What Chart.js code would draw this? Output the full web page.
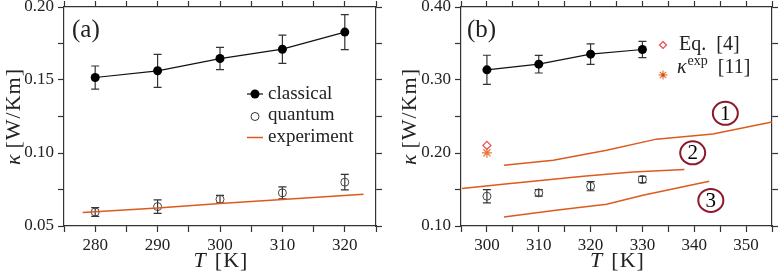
<!DOCTYPE html>
<html>
<head>
<meta charset="utf-8">
<script src="https://cdn.jsdelivr.net/npm/chart.js@4.4.0/dist/chart.umd.min.js"></script>
<style>
  html, body { margin: 0; padding: 0; background: #fff; }
  #wrap { position: relative; width: 781px; height: 278px; }
  .panel { position: absolute; top: 0; height: 278px; }
</style>
</head>
<body>
<div id="wrap">
  <div class="panel" style="left:0;width:390px"><canvas id="chartA" width="390" height="278"></canvas></div>
  <div class="panel" style="left:390px;width:391px"><canvas id="chartB" width="391" height="278"></canvas></div>
</div>
<script>
// panel (a)
const tempsA = [280, 290, 300, 310, 320];
const classicalA = [0.1517, 0.1563, 0.1647, 0.1711, 0.1828];
const classicalErrA = [0.0079, 0.0113, 0.0076, 0.0097, 0.0120];
const quantumA = [0.0596, 0.0633, 0.0683, 0.0727, 0.0800];
const quantumErrA = [0.0030, 0.0046, 0.0027, 0.0041, 0.0053];
const expTempsA = [278, 290, 300, 310, 323];
const experimentA = [0.0592, 0.0624, 0.0654, 0.0681, 0.0718];

// panel (b)
const tempsB = [300, 310, 320, 330];
const classicalB = [0.3139, 0.3217, 0.3354, 0.3418];
const classicalErrB = [0.0200, 0.0121, 0.0140, 0.0112];
const quantumB = [0.1408, 0.1454, 0.1545, 0.1637];
const quantumErrB = [0.0090, 0.0045, 0.0062, 0.0044];
const eq4T = [300];
const eq4 = [0.2104];
const kexpT = [300];
const kexp = [0.2003];
const curve1T = [303.3, 312.8, 323.1, 332.7, 343.6, 355.0];
const curve1 = [0.1833, 0.1902, 0.2039, 0.2190, 0.2259, 0.2425];
const curve2T = [295.2, 302.6, 318.6, 328.2, 338.1];
const curve2 = [0.1513, 0.1569, 0.1682, 0.1741, 0.1774];
const curve3T = [303.3, 313.3, 323.1, 330.1, 342.9];
const curve3 = [0.1124, 0.1215, 0.1298, 0.1422, 0.1614];

const SERIF = "'Liberation Serif', 'DejaVu Serif', serif";
const ORANGE = '#dd5a1e';
const INK = '#222';
const TAG_RED = '#8b1a2b';

Chart.defaults.font.family = SERIF;
Chart.defaults.font.size = 17;
Chart.defaults.color = INK;

function pts(xs, ys) {
  return xs.map((x, i) => ({ x, y: ys[i] }));
}

function isMultiple(v, step) {
  return Math.abs(v / step - Math.round(v / step)) < 1e-6;
}

function makeScales(o) {
  const border = { display: true, color: '#333', width: 1.2 };
  const grid = { display: true, drawOnChartArea: false, drawTicks: true, tickLength: 6, tickColor: '#333', tickWidth: 1.2 };
  return {
    x: {
      type: 'linear', position: 'bottom', min: o.xmin, max: o.xmax, border, grid,
      ticks: { stepSize: o.xstep, autoSkip: false, maxRotation: 0, padding: 3,
        callback: v => isMultiple(v, o.xlab) ? String(Math.round(v)) : '' },
      afterFit: s => { s.height = 52; s.paddingLeft = 0; s.paddingRight = 0; }
    },
    xTop: {
      type: 'linear', position: 'top', min: o.xmin, max: o.xmax, border, grid,
      ticks: { stepSize: o.xstep, autoSkip: false, display: false },
      afterFit: s => { s.height = 7; s.paddingLeft = 0; s.paddingRight = 0; }
    },
    y: {
      type: 'linear', position: 'left', min: o.ymin, max: o.ymax, border, grid,
      ticks: { stepSize: o.ystep, autoSkip: false, padding: 4,
        callback: v => isMultiple(v, o.ylab) ? v.toFixed(2) : '' },
      afterFit: s => { s.width = o.left; s.paddingTop = 0; s.paddingBottom = 0; }
    },
    yRight: {
      type: 'linear', position: 'right', min: o.ymin, max: o.ymax, border, grid,
      ticks: { stepSize: o.ystep, autoSkip: false, display: false },
      afterFit: s => { s.width = o.right; s.paddingTop = 0; s.paddingBottom = 0; }
    }
  };
}

const errorBars = {
  id: 'errorBars',
  beforeDatasetsDraw(chart) {
    const { ctx } = chart;
    const xs = chart.scales.x, ys = chart.scales.y;
    chart.data.datasets.forEach(ds => {
      if (!ds.errors) return;
      ctx.save();
      ctx.strokeStyle = '#333';
      ctx.lineWidth = 1.2;
      ds.data.forEach((p, i) => {
        const px = xs.getPixelForValue(p.x);
        const top = ys.getPixelForValue(p.y + ds.errors[i]);
        const bot = ys.getPixelForValue(p.y - ds.errors[i]);
        ctx.beginPath();
        ctx.moveTo(px, top); ctx.lineTo(px, bot);
        ctx.moveTo(px - 4, top); ctx.lineTo(px + 4, top);
        ctx.moveTo(px - 4, bot); ctx.lineTo(px + 4, bot);
        ctx.stroke();
      });
      ctx.restore();
    });
  }
};

function font(size, italic) {
  return (italic ? 'italic ' : '') + size + 'px ' + SERIF;
}

function drawRuns(ctx, runs, x, y, align) {
  let w = 0;
  runs.forEach(r => { ctx.font = r.font; r.w = ctx.measureText(r.text).width + (r.gap || 0); w += r.w; });
  let cx = align === 'center' ? x - w / 2 : x;
  runs.forEach(r => {
    ctx.font = r.font;
    ctx.fillText(r.text, cx, y + (r.dy || 0));
    cx += r.w;
  });
}

function drawAxisTitles(chart, yTitleX) {
  const { ctx, chartArea } = chart;
  ctx.save();
  ctx.fillStyle = INK;
  ctx.textBaseline = 'alphabetic';
  if ('letterSpacing' in ctx) ctx.letterSpacing = '1px';
  drawRuns(ctx, [{ text: 'T', font: font(22, true), gap: 8 }, { text: '[K]', font: font(22) }],
    (chartArea.left + chartArea.right) / 2 + 1, 267, 'center');
  ctx.translate(yTitleX, (chartArea.top + chartArea.bottom) / 2);
  ctx.rotate(-Math.PI / 2);
  drawRuns(ctx, [{ text: 'κ', font: font(22, true), gap: 5 }, { text: '[W/Km]', font: font(22) }], 0, 0, 'center');
  ctx.restore();
}

const decoA = {
  id: 'decoA',
  afterDraw(chart) {
    const { ctx } = chart;
    drawAxisTitles(chart, 20);
    ctx.save();
    ctx.fillStyle = INK;
    ctx.font = font(25);
    ctx.fillText('(a)', 72, 37);
    // legend
    ctx.font = font(19);
    ctx.fillText('classical', 268, 99);
    ctx.fillText('quantum', 268, 120);
    ctx.fillText('experiment', 268, 142);
    ctx.strokeStyle = '#111';
    ctx.lineWidth = 1.2;
    ctx.beginPath(); ctx.moveTo(247, 94); ctx.lineTo(263, 94); ctx.stroke();
    ctx.fillStyle = '#000';
    ctx.beginPath(); ctx.arc(255, 94, 4.5, 0, Math.PI * 2); ctx.fill();
    ctx.strokeStyle = '#333';
    ctx.lineWidth = 1;
    ctx.beginPath(); ctx.arc(255, 116.5, 4, 0, Math.PI * 2); ctx.stroke();
    ctx.strokeStyle = ORANGE;
    ctx.lineWidth = 1.5;
    ctx.beginPath(); ctx.moveTo(247, 137.5); ctx.lineTo(263, 137.5); ctx.stroke();
    ctx.restore();
  }
};

const tagsB = [
  { text: '1', x: 346.0, y: 0.2544 },
  { text: '2', x: 339.7, y: 0.2003 },
  { text: '3', x: 343.2, y: 0.1350 }
];

const decoB = {
  id: 'decoB',
  afterDraw(chart) {
    const { ctx } = chart;
    drawAxisTitles(chart, 26);
    ctx.save();
    ctx.fillStyle = INK;
    ctx.font = font(25);
    ctx.fillText('(b)', 77, 37);
    // legend
    const lx = 273;
    ctx.strokeStyle = '#f04848';
    ctx.lineWidth = 1.2;
    ctx.beginPath();
    ctx.moveTo(lx, 41.5); ctx.lineTo(lx + 3.5, 45); ctx.lineTo(lx, 48.5); ctx.lineTo(lx - 3.5, 45); ctx.closePath();
    ctx.stroke();
    ctx.strokeStyle = '#e8743b';
    for (let k = 0; k < 4; k++) {
      const a = k * Math.PI / 4;
      ctx.beginPath();
      ctx.moveTo(lx - 4.5 * Math.cos(a), 75 - 4.5 * Math.sin(a));
      ctx.lineTo(lx + 4.5 * Math.cos(a), 75 + 4.5 * Math.sin(a));
      ctx.stroke();
    }
    ctx.fillStyle = '#c8501c';
    ctx.fillRect(lx - 1.5, 73.5, 3, 3);
    ctx.fillStyle = INK;
    drawRuns(ctx, [{ text: 'Eq.  [4]', font: font(20) }], 289, 50, 'left');
    drawRuns(ctx, [
      { text: 'κ', font: font(20, true), gap: 1 },
      { text: 'exp', font: font(14), dy: -8 },
      { text: '  [11]', font: font(20) }
    ], 287, 72.5, 'left');
    // circled curve labels
    const xs = chart.scales.x, ys = chart.scales.y;
    ctx.textAlign = 'center';
    ctx.textBaseline = 'middle';
    tagsB.forEach(t => {
      const px = xs.getPixelForValue(t.x), py = ys.getPixelForValue(t.y);
      ctx.strokeStyle = TAG_RED;
      ctx.lineWidth = 2;
      ctx.beginPath(); ctx.ellipse(px, py, 12.5, 11.5, 0, 0, Math.PI * 2); ctx.stroke();
      ctx.fillStyle = '#000';
      ctx.font = font(21);
      ctx.fillText(t.text, px, py + 1);
    });
    ctx.restore();
  }
};

const baseOptions = {
  responsive: false,
  animation: false,
  layout: { padding: 0 },
  plugins: { legend: { display: false }, tooltip: { enabled: false } },
  elements: { line: { tension: 0 } }
};

const classicalStyle = {
  showLine: true, borderColor: '#111', borderWidth: 1.2,
  pointRadius: 4.5, pointBackgroundColor: '#000', pointBorderColor: '#000', pointBorderWidth: 0
};
const quantumStyle = {
  showLine: false, pointRadius: 4, pointBackgroundColor: 'rgba(0,0,0,0)',
  pointBorderColor: '#444', pointBorderWidth: 1
};
const curveStyle = { showLine: true, borderColor: ORANGE, borderWidth: 1.5, pointRadius: 0 };

new Chart(document.getElementById('chartA'), {
  type: 'scatter',
  data: {
    datasets: [
      { label: 'experiment', data: pts(expTempsA, experimentA), ...curveStyle },
      { label: 'classical', data: pts(tempsA, classicalA), errors: classicalErrA, ...classicalStyle },
      { label: 'quantum', data: pts(tempsA, quantumA), errors: quantumErrA, ...quantumStyle }
    ]
  },
  options: {
    ...baseOptions,
    scales: makeScales({ xmin: 275, xmax: 325, xstep: 5, xlab: 10, ymin: 0.05, ymax: 0.20, ystep: 0.025, ylab: 0.05, left: 64, right: 14 })
  },
  plugins: [errorBars, decoA]
});

new Chart(document.getElementById('chartB'), {
  type: 'scatter',
  data: {
    datasets: [
      { label: 'curve 1', data: pts(curve1T, curve1), ...curveStyle },
      { label: 'curve 2', data: pts(curve2T, curve2), ...curveStyle },
      { label: 'curve 3', data: pts(curve3T, curve3), ...curveStyle },
      { label: 'classical', data: pts(tempsB, classicalB), errors: classicalErrB, ...classicalStyle },
      { label: 'quantum', data: pts(tempsB, quantumB), errors: quantumErrB, ...quantumStyle },
      { label: 'Eq. [4]', data: pts(eq4T, eq4), showLine: false, pointStyle: 'rectRot', pointRadius: 4,
        pointBackgroundColor: 'rgba(0,0,0,0)', pointBorderColor: '#f04848', pointBorderWidth: 1.2 },
      { label: 'kappa exp [11]', data: pts(kexpT, kexp), showLine: false, pointStyle: 'star', pointRadius: 5,
        pointBorderColor: '#e8743b', pointBorderWidth: 1.2 }
    ]
  },
  options: {
    ...baseOptions,
    scales: makeScales({ xmin: 295, xmax: 355, xstep: 5, xlab: 10, ymin: 0.10, ymax: 0.40, ystep: 0.05, ylab: 0.10, left: 71, right: 9 })
  },
  plugins: [errorBars, decoB]
});
</script>
</body>
</html>
